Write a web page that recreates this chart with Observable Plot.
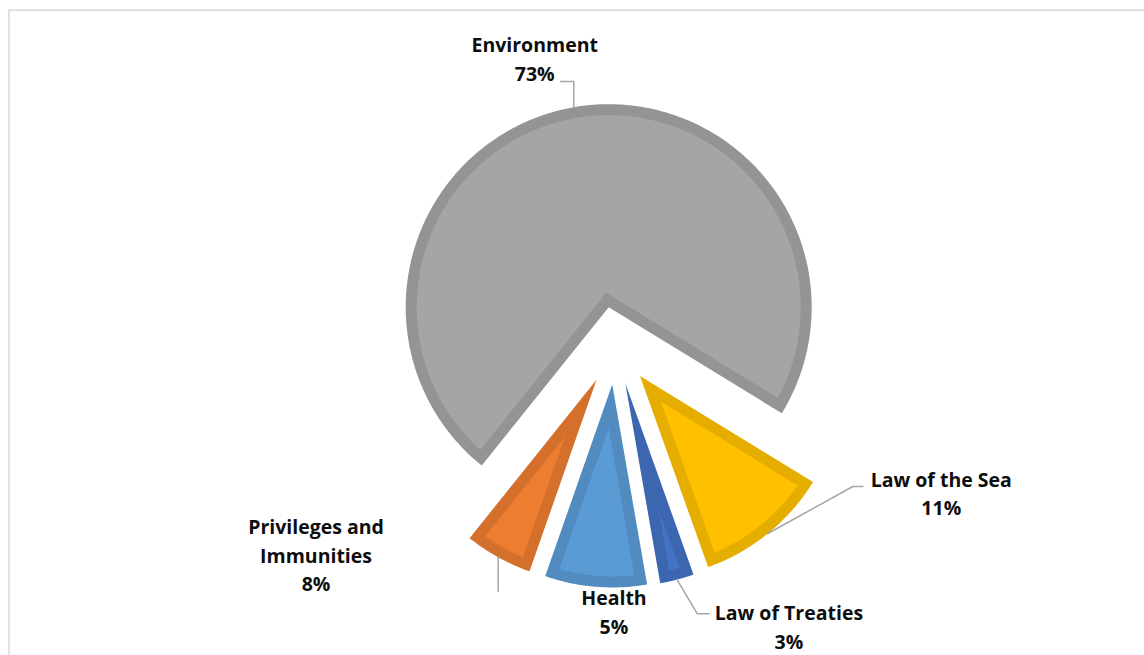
<!DOCTYPE html>
<html>
<head>
<meta charset="utf-8">
<style>
html, body { margin: 0; padding: 0; background: #fff; overflow: hidden; }
</style>
<script src="https://cdn.jsdelivr.net/npm/d3@7"></script>
<script src="https://cdn.jsdelivr.net/npm/@observablehq/plot@0.6"></script>
</head>
<body>
<div id="chart"></div>
<script>
// ---------- data ----------
const categories = ["Law of the Sea", "Law of Treaties", "Health", "Privileges and Immunities", "Environment"];
// slice sizes as drawn (percent of the pie)
const sliceShares = [10.8, 2.7, 8.1, 5.4, 73.0];
// label texts as printed
const labelTitles = ["Law of the Sea", "Law of Treaties", "Health", "Privileges and\nImmunities", "Environment"];
const labelPercents = ["11%", "3%", "5%", "8%", "73%"];

// ---------- styles ----------
const fillColors = ["#FFC000", "#4472C4", "#5B9BD5", "#ED7D31", "#A5A5A5"];

// ---------- layout ----------
const W = 1144, H = 655;
const CX = 614.9, CY = 345.1;   // pie centre (px)
const R = 203, EXPLODE = 39, BAND = 11;
const START_DEG = 121.5;
// label anchor (last baseline, centre) relative to each slice's arc midpoint
const labelOffsets = [[173.4, -18.1], [111.9, 69.2], [18.3, 46.9], [-182.1, 33.9], [-39.1, -26.7]];
// leader line vertices relative to each slice's arc midpoint
const leaderPaths = [
  [[0, 0], [85, -47], [95, -47]],
  [[0, 0], [20.3, 34.2], [31.9, 34.2]],
  [],
  [[0, 0], [0, 34]],
  [[0, 0], [0, -25.7], [-13, -25.7]]
];

const rad = d => d * Math.PI / 180;
const pt = (cx, cy, r, a) => [cx + r * Math.sin(a), cy - r * Math.cos(a)];

const arcs = d3.pie().sort(null).value(d => d)
  .startAngle(rad(START_DEG)).endAngle(rad(START_DEG + 360))(sliceShares);

const marks = [];
marks.push(Plot.frame({stroke: "#d9d9d9", strokeWidth: 1.5, insetLeft: 8.5, insetTop: 9.7, insetRight: -20, insetBottom: -20}));

const labelData = [];
const leaderData = [];

arcs.forEach((a, i) => {
  const a0 = a.startAngle, a1 = a.endAngle;
  const mid = (a0 + a1) / 2;
  const [ax, ay] = pt(CX, CY, EXPLODE, mid);
  const n = Math.max(8, Math.ceil((a1 - a0) / rad(1)));
  // outer wedge (border colour)
  const outer = [[ax, ay]];
  for (let k = 0; k <= n; k++) outer.push(pt(ax, ay, R, a0 + (a1 - a0) * k / n));
  outer.push([ax, ay]);
  // inner wedge (fill colour), inset by BAND
  const half = (a1 - a0) / 2;
  const vd = BAND / Math.sin(half);
  const [vx, vy] = pt(ax, ay, vd, mid);
  const r2 = R - BAND;
  const dl = Math.asin(BAND / r2);
  const inner = [[vx, vy]];
  for (let k = 0; k <= n; k++) inner.push(pt(ax, ay, r2, (a0 + dl) + ((a1 - dl) - (a0 + dl)) * k / n));
  inner.push([vx, vy]);

  const base = d3.color(fillColors[i]);
  const border = base.darker(0.3).formatHex();
  marks.push(Plot.line(outer, {x: d => d[0], y: d => d[1], fill: border, stroke: "none"}));
  marks.push(Plot.line(inner, {x: d => d[0], y: d => d[1], fill: fillColors[i], stroke: "none"}));

  const [mx, my] = pt(ax, ay, R, mid);
  labelData.push({
    x: mx + labelOffsets[i][0],
    y: my + labelOffsets[i][1],
    text: labelTitles[i] + "\n" + labelPercents[i],
    category: categories[i]
  });
  leaderPaths[i].forEach(([dx, dy]) => leaderData.push({key: i, x: mx + dx, y: my + dy}));
});

marks.push(Plot.line(leaderData, {x: "x", y: "y", z: "key", stroke: "#a6a6a6", strokeWidth: 1.5}));
marks.push(Plot.text(labelData, {
  x: "x", y: "y", text: "text",
  textAnchor: "middle", lineAnchor: "bottom", lineHeight: 1.47,
  fontSize: 19.5, fontWeight: 700, fontFamily: "Open Sans", fill: "#0d0d0d"
}));

const chart = Plot.plot({
  width: W, height: H,
  margin: 0,
  x: {domain: [0, W], range: [0, W], axis: null},
  y: {domain: [0, H], range: [0, H], axis: null},
  style: {background: "#fff", overflow: "hidden"},
  marks
});
document.getElementById("chart").appendChild(chart);
</script>
</body>
</html>
